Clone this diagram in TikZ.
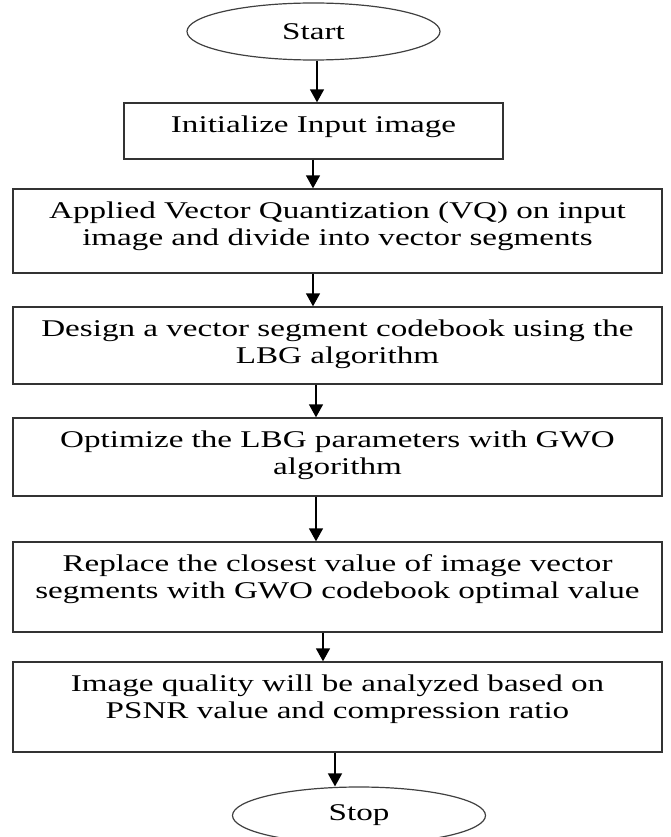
\documentclass[tikz,border=0pt]{standalone}
\usepackage{fontspec}
\setmainfont{Liberation Serif}[FakeStretch=1.38]
\usetikzlibrary{arrows.meta,shapes.geometric}
\newcommand{\fcbody}[3]{\parbox[c][#1pt][t]{#2pt}{\centering\vspace*{11pt}\strut #3}}
\tikzset{
  fcbox/.style={draw=black!80, line width=1.4pt, rectangle, inner sep=0pt, text=black},
  fcterm/.style={draw=black!75, line width=1.2pt, ellipse, inner sep=0pt,
                 minimum width=253pt, minimum height=57pt},
  arr/.style={-{Triangle[width=14pt,length=13pt]}, line width=1.5pt, black},
}
\begin{document}
\begin{tikzpicture}[x=1pt, y=-1pt, font=\fontsize{24}{27}\selectfont]
\useasboundingbox (0,0) rectangle (670,837);

\node[fcterm] (start) at (313.5,31.5) {Start};
\node[fcbox, minimum width=379pt, minimum height=56pt] (b1) at (313.5,131)
  {\fcbody{56}{379}{Initialize Input image}};
\node[fcbox, minimum width=649pt, minimum height=84pt] (b2) at (337.5,231)
  {\fcbody{84}{649}{Applied Vector Quantization (VQ) on input\\image and divide into vector segments}};
\node[fcbox, minimum width=649pt, minimum height=77pt] (b3) at (337.5,345.5)
  {\fcbody{77}{649}{Design a vector segment codebook using the\\LBG algorithm}};
\node[fcbox, minimum width=649pt, minimum height=78pt] (b4) at (337.5,457)
  {\fcbody{78}{649}{Optimize the LBG parameters with GWO\\algorithm}};
\node[fcbox, minimum width=649pt, minimum height=90pt] (b5) at (337.5,587)
  {\fcbody{90}{649}{Replace the closest value of image vector\\segments with GWO codebook optimal value}};
\node[fcbox, minimum width=649pt, minimum height=90pt] (b6) at (337.5,707)
  {\fcbody{90}{649}{Image quality will be analyzed based on\\PSNR value and compression ratio}};
\node[fcterm] (stop) at (359,815.5) {Stop};

\draw[arr] ([xshift=3.5pt]start.south) -- ([xshift=3.5pt]b1.north);
\draw[arr] ([xshift=-0.5pt]b1.south) -- ([xshift=-24.5pt]b2.north);
\draw[arr] ([xshift=-24.5pt]b2.south) -- ([xshift=-24.5pt]b3.north);
\draw[arr] ([xshift=-21.5pt]b3.south) -- ([xshift=-21.5pt]b4.north);
\draw[arr] ([xshift=-21.5pt]b4.south) -- ([xshift=-21.5pt]b5.north);
\draw[arr] ([xshift=-14.5pt]b5.south) -- ([xshift=-14.5pt]b6.north);
\draw[arr] ([xshift=-2.5pt]b6.south) -- ([xshift=-24pt]stop.north);
\end{tikzpicture}
\end{document}
